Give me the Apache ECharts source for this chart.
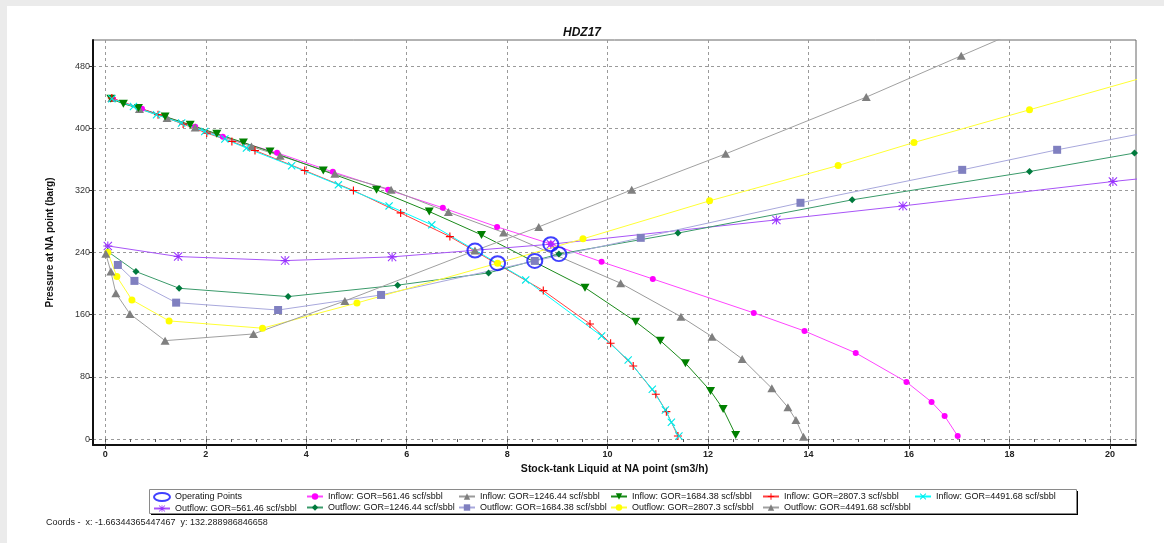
<!DOCTYPE html>
<html>
<head>
<meta charset="utf-8">
<title>HDZ17</title>
<script src="https://cdn.jsdelivr.net/npm/echarts@6/dist/echarts.min.js"></script>
<style>
  html, body { margin: 0; padding: 0; background: #ebebeb; overflow: hidden; }
  #panel { position: absolute; left: 7px; top: 6px; width: 1157px; height: 537px; background: #ffffff; }
  #chart { position: absolute; left: 0; top: 0; width: 1164px; height: 543px; }
</style>
</head>
<body>
<div id="panel"></div>
<div id="chart"></div>
<script>
// ---- axis ticks ----
const xTickValues = [0, 2, 4, 6, 8, 10, 12, 14, 16, 18, 20];
const yTickValues = [0, 80, 160, 240, 320, 400, 480];

// ---- inflow (IPR) curves: [liquid rate sm3/h, pressure barg] ----
const inflow561 = [[0.15,437.9],[0.73,425],[1.79,401.8],[2.34,388.9],[3.42,368.3],[4.53,343.8],[5.63,320.7],[6.72,297.5],[7.80,273],[8.87,251],[9.88,228],[10.9,206],[12.91,162.3],[13.92,139],[14.94,110.8],[15.95,73.4],[16.45,47.6],[16.71,29.6],[16.97,3.9]];
const inflow1246 = [[0.13,438.8],[0.68,424.6],[1.23,413],[1.79,400.9],[2.91,376.4],[3.48,364.5],[4.57,341.3],[5.69,320.7],[6.83,292],[7.93,265.7],[10.26,200.5],[11.46,157.5],[12.08,131.7],[12.68,103],[13.27,65.3],[13.59,40.8],[13.75,24.5],[13.9,3]];
const inflow1684 = [[0.11,437.9],[0.36,431.4],[0.66,425.9],[1.19,415],[1.69,404.4],[2.22,392.8],[2.75,381.6],[3.28,370],[4.34,345.5],[5.4,320.7],[6.45,292.7],[7.49,262.7],[9.55,194.8],[10.56,151],[11.05,126.6],[11.55,97.5],[12.05,61.8],[12.3,38.6],[12.55,5.2]];
const inflow2807 = [[0.13,438.8],[1.05,417.3],[1.55,405.3],[2.02,393.7],[2.52,382.9],[2.98,371.3],[3.97,345.5],[4.94,319.8],[5.88,291],[6.86,260.5],[8.72,191],[9.65,148.1],[10.06,123.2],[10.51,94],[10.96,57.6],[11.17,35.2],[11.4,3.9]];
const inflow4491 = [[0.13,437.9],[0.56,428],[1.02,417.3],[1.52,406.6],[1.98,395.8],[2.38,386],[2.81,374.4],[3.71,351.6],[4.64,327.1],[5.65,300],[6.5,275.6],[8.37,204.8],[9.88,132.6],[10.41,101.7],[10.89,64],[11.15,37.3],[11.27,21.5],[11.42,3.9]];

// ---- outflow (VLP) curves ----
const outflow561 = [[0.05,248.5],[1.45,234.8],[3.58,229.6],[5.71,234.4],[8.87,250.7],[13.36,282],[15.88,300],[20.06,331.4],[21.5,341]];
const outflow1246 = [[0.05,241.2],[0.61,215.5],[1.47,194],[3.64,183.3],[5.82,198],[7.63,213.8],[9.03,238],[11.4,265],[14.87,307.8],[18.4,344.2],[20.49,368]];
const outflow1684 = [[0.25,224],[0.58,203.5],[1.41,175.5],[3.44,166],[5.49,185.4],[8.55,229.2],[10.66,258.9],[13.84,304],[17.06,346.4],[18.95,372.2],[21.5,403.8]];
const outflow2807 = [[0.05,240],[0.23,209],[0.53,179],[1.27,152],[3.13,142.6],[5.01,175.1],[7.81,226.3],[9.51,257.6],[12.03,306.5],[14.59,352],[16.1,381.6],[18.4,423.7],[21.5,480.4]];
const outflow4491 = [[0.01,238.3],[0.11,215.5],[0.21,187.6],[0.49,161],[1.19,126.6],[2.95,135.2],[4.77,177.7],[7.36,242.5],[8.63,273],[10.48,320.7],[12.35,367],[15.15,440],[17.04,493.2],[18.5,534]];

// ---- operating points (inflow/outflow intersections) ----
const operatingPoints = [[7.36,242.5],[7.81,226.3],[8.55,229.2],[8.87,250.7],[9.03,237.9]];

// ---- marker shapes ----
const PLUS = 'path://M4.3,0H5.7V4.3H10V5.7H5.7V10H4.3V5.7H0V4.3H4.3Z';
const CROSS = 'path://M0,1L1,0L5,4L9,0L10,1L6,5L10,9L9,10L5,6L1,10L0,9L4,5Z';
const STAR = 'path://M4.4,0H5.6V10H4.4Z M0,4.4H10V5.6H0Z M0.8,0L10,9.2L9.2,10L0,0.8Z M9.2,0L10,0.8L0.8,10L0,9.2Z';
const DOWN_TRI = 'path://M0,0H10L5,9Z';
const ELLIPSE = 'path://M0,5A10,5 0 1,0 20,5A10,5 0 1,0 0,5Z';

const FONT = '"Liberation Sans", Arial, sans-serif';
const X_MIN = -0.245, X_MAX = 20.52;
const Y_MIN = -7.7, Y_MAX = 513.5;

// minor ticks every half unit along the rate axis
const xMinorValues = [];
for (let v = 0; v <= 20.5; v += 0.5) xMinorValues.push(v);

function curve(name, data, markerColor, lineColor, symbol, size) {
  return {
    name: name,
    type: 'line',
    data: data,
    symbol: symbol,
    symbolSize: size,
    showAllSymbol: true,
    clip: true,
    lineStyle: { color: lineColor, width: 1 },
    itemStyle: { color: markerColor, borderWidth: 0 },
    emphasis: { disabled: true },
    z: 3
  };
}

const series = [
  {
    name: 'Operating Points',
    type: 'scatter',
    data: operatingPoints,
    symbol: 'circle',
    symbolSize: [15, 14],
    itemStyle: { color: 'rgba(0,0,0,0)', borderColor: '#1010ff', borderWidth: 2 },
    z: 10
  },
  curve('Inflow: GOR=561.46 scf/sbbl', inflow561, '#ff00ff', '#ff44ff', 'circle', 6),
  curve('Inflow: GOR=1246.44 scf/sbbl', inflow1246, '#7f7f7f', '#9a9a9a', 'triangle', [9, 8]),
  curve('Inflow: GOR=1684.38 scf/sbbl', inflow1684, '#008000', '#1a8a1a', DOWN_TRI, [9, 8]),
  curve('Inflow: GOR=2807.3 scf/sbbl', inflow2807, '#ff0000', '#ff4040', PLUS, 8),
  curve('Inflow: GOR=4491.68 scf/sbbl', inflow4491, '#00e8e8', '#00ffff', CROSS, 8),
  curve('Outflow: GOR=561.46 scf/sbbl', outflow561, '#9933ff', '#a855f7', STAR, 9),
  curve('Outflow: GOR=1246.44 scf/sbbl', outflow1246, '#007a3d', '#3a9a6a', 'diamond', 7),
  curve('Outflow: GOR=1684.38 scf/sbbl', outflow1684, '#8080c0', '#a8a8dc', 'rect', 8),
  curve('Outflow: GOR=2807.3 scf/sbbl', outflow2807, '#ffff00', '#ffff33', 'circle', 7),
  curve('Outflow: GOR=4491.68 scf/sbbl', outflow4491, '#7f7f7f', '#a0a0a0', 'triangle', [9, 8])
];

// legend columns, two rows each
const legendColumns = [
  ['Operating Points', 'Outflow: GOR=561.46 scf/sbbl'],
  ['Inflow: GOR=561.46 scf/sbbl', 'Outflow: GOR=1246.44 scf/sbbl'],
  ['Inflow: GOR=1246.44 scf/sbbl', 'Outflow: GOR=1684.38 scf/sbbl'],
  ['Inflow: GOR=1684.38 scf/sbbl', 'Outflow: GOR=2807.3 scf/sbbl'],
  ['Inflow: GOR=2807.3 scf/sbbl', 'Outflow: GOR=4491.68 scf/sbbl'],
  ['Inflow: GOR=4491.68 scf/sbbl']
];
const legendLefts = [153, 306, 458, 610, 762, 914];

const legends = legendColumns.map(function (names, i) {
  return {
    orient: 'vertical',
    left: legendLefts[i],
    top: 492,
    padding: 0,
    itemGap: 2,
    itemWidth: 16,
    itemHeight: 8,
    selectedMode: false,
    z: 5,
    textStyle: { fontSize: 9, color: '#111', fontFamily: FONT },
    data: names.map(function (n) {
      if (n === 'Operating Points') {
        return { name: n, icon: ELLIPSE, itemStyle: { color: 'rgba(0,0,0,0)', borderColor: '#1010ff', borderWidth: 2 } };
      }
      return { name: n };
    })
  };
});

const chart = echarts.init(document.getElementById('chart'), null, { renderer: 'canvas' });
chart.setOption({
  animation: false,
  backgroundColor: 'transparent',
  title: {
    text: 'HDZ17',
    left: 'center',
    top: 22,
    textStyle: { fontSize: 12, fontWeight: 'bold', fontStyle: 'italic', color: '#111', fontFamily: FONT }
  },
  grid: {
    left: 93, top: 40, right: 28, bottom: 98,
    show: true, borderColor: '#666', borderWidth: 1, backgroundColor: 'transparent'
  },
  legend: legends,
  xAxis: [
    {
      type: 'value', min: X_MIN, max: X_MAX, position: 'bottom',
      name: 'Stock-tank Liquid at NA point (sm3/h)',
      nameLocation: 'middle', nameGap: 18,
      nameTextStyle: { fontSize: 10.5, fontWeight: 'bold', color: '#111', fontFamily: FONT },
      axisLine: { show: true, onZero: false, lineStyle: { color: '#111', width: 2 } },
      axisTick: { show: true, customValues: xTickValues, length: 4, lineStyle: { color: '#333' } },
      axisLabel: { customValues: xTickValues, fontSize: 9, fontWeight: 'bold', color: '#222', margin: 5, fontFamily: FONT },
      splitLine: { show: true, lineStyle: { color: '#9a9a9a', type: [3, 3], width: 1 } }
    },
    {
      type: 'value', min: X_MIN, max: X_MAX, position: 'bottom',
      axisLine: { show: false },
      axisTick: { show: true, customValues: xMinorValues, length: 3, lineStyle: { color: '#555' } },
      axisLabel: { show: false },
      splitLine: { show: false }
    }
  ],
  yAxis: {
    type: 'value', min: Y_MIN, max: Y_MAX,
    name: 'Pressure at NA point (barg)',
    nameLocation: 'middle', nameGap: 38,
    nameTextStyle: { fontSize: 10, fontWeight: 'bold', color: '#111', fontFamily: FONT },
    axisLine: { show: true, onZero: false, lineStyle: { color: '#111', width: 2 } },
    axisTick: { show: true, customValues: yTickValues, length: 4, lineStyle: { color: '#333' } },
    axisLabel: { customValues: yTickValues, fontSize: 9, color: '#333', margin: 3, fontFamily: FONT },
    splitLine: { show: true, lineStyle: { color: '#9a9a9a', type: [3, 3], width: 1 } }
  },
  graphic: [
    // legend frame: solid drop shadow, then the framed white box on top
    {
      type: 'rect', left: 151, top: 491, z: 1,
      shape: { width: 927, height: 24 },
      style: { fill: '#000000' }
    },
    {
      type: 'rect', left: 149, top: 489, z: 2,
      shape: { width: 927, height: 24 },
      style: { fill: '#ffffff', stroke: '#8a8a8a', lineWidth: 1 }
    },
    {
      type: 'text', left: 46, top: 518, z: 2,
      style: { text: 'Coords -  x: -1.66344365447467  y: 132.288986846658', fontSize: 9, fill: '#222', fontFamily: FONT }
    }
  ],
  series: series
});
</script>
</body>
</html>
